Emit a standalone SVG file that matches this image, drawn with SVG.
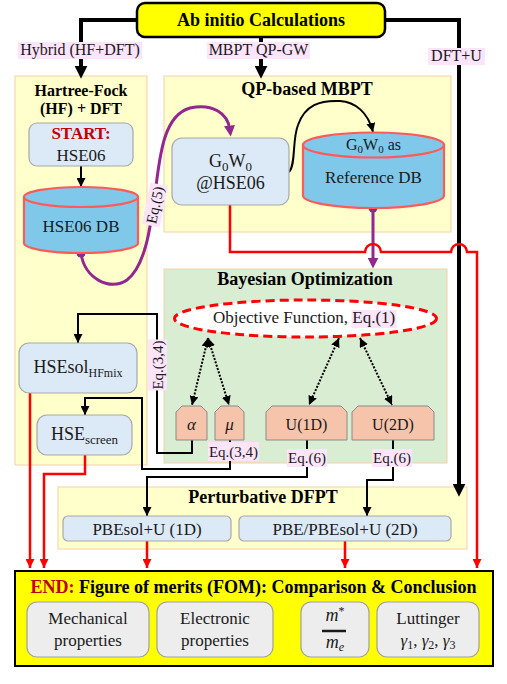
<svg xmlns="http://www.w3.org/2000/svg" width="507" height="684" viewBox="0 0 507 684" font-family="'Liberation Serif', 'Times New Roman', serif">
<defs>
<style>
text{font-family:'Liberation Serif','Times New Roman',serif;fill:#1a1a1a}
.t{font-weight:bold;fill:#000}
.panel{fill:#FFFFCC;stroke:#F5CFA8;stroke-width:1}
.green{fill:#D9EDD2;stroke:#F5CFA8;stroke-width:1}
.blue{fill:#DCE9F6;stroke:#A8A8A8;stroke-width:1.2}
.cyl{fill:#7FC8EA;stroke:#FF5A5A;stroke-width:2.2}
.par{fill:#F6C4AA;stroke:#8A8A8A;stroke-width:1}
.gray{fill:#EDEDED;stroke:#A0A0A0;stroke-width:1.2}
.yel{fill:#FFFF00;stroke:#000}
.pink{fill:#FCE4FA}
.thick{fill:none;stroke:#000;stroke-width:4}
.thin{fill:none;stroke:#000;stroke-width:2}
.red{fill:none;stroke:#FF0000;stroke-width:2.5}
.purp{fill:none;stroke:#92278F;stroke-width:3}
.dot{fill:none;stroke:#000;stroke-width:2;stroke-dasharray:2 1.5}
.lbl{font-size:15px;text-anchor:middle}
.mid{text-anchor:middle}
</style>
<marker id="aK" viewBox="0 0 10 10" refX="4" refY="5" markerWidth="13" markerHeight="13" markerUnits="userSpaceOnUse" orient="auto"><path d="M0,0L10,5L0,10z" fill="#000"/></marker>
<marker id="ak" viewBox="0 0 10 10" refX="10" refY="5" markerWidth="9" markerHeight="9" markerUnits="userSpaceOnUse" orient="auto"><path d="M0,0L10,5L0,10z" fill="#000"/></marker>
<marker id="ad" viewBox="0 0 10 10" refX="10" refY="5" markerWidth="9" markerHeight="9" markerUnits="userSpaceOnUse" orient="auto-start-reverse"><path d="M0,0L10,5L0,10z" fill="#000"/></marker>
<marker id="ar" viewBox="0 0 10 10" refX="10" refY="5" markerWidth="9" markerHeight="9" markerUnits="userSpaceOnUse" orient="auto"><path d="M0,0L10,5L0,10z" fill="#FF0000"/></marker>
<marker id="ap" viewBox="0 0 10 10" refX="4" refY="5" markerWidth="11" markerHeight="11" markerUnits="userSpaceOnUse" orient="auto"><path d="M0,0L10,5L0,10z" fill="#92278F"/></marker>
</defs>

<g id="panel-hf">
<rect class="panel" x="15" y="76" width="132" height="389"/>
<text class="t mid" x="81" y="96" font-size="16">Hartree-Fock</text>
<text class="t mid" x="81" y="114" font-size="16">(HF) + DFT</text>
</g>
<g id="panel-mbpt">
<rect class="panel" x="164" y="76" width="287" height="156"/>
<text class="t mid" x="307" y="95" font-size="18">QP-based MBPT</text>
</g>
<g id="panel-bayes">
<rect class="green" x="164" y="269" width="283" height="194"/>
<text class="t mid" x="305" y="285" font-size="18">Bayesian Optimization</text>
</g>
<g id="panel-dfpt">
<rect class="panel" x="58" y="487" width="409" height="62"/>
<text class="t mid" x="263" y="503" font-size="18">Perturbative DFPT</text>
</g>

<g id="connectors">
<path class="thick" d="M137,20H81V71" marker-end="url(#aK)"/>
<path class="thick" d="M261,37V71" marker-end="url(#aK)"/>
<path class="thick" d="M385,20H459V489" marker-end="url(#aK)"/>
<path class="thin" d="M81,166V187" marker-end="url(#ak)"/>
<path class="thin" d="M289,172C296,165 292,140 298,125C305,105 320,100 340,101C355,102 368,112 373,132" marker-end="url(#ak)"/>
<path class="purp" d="M81,253C84,278 110,292 127,280C145,266 150,230 155,195C160,150 165,115 190,108C212,103 228,113 230,130" marker-end="url(#ap)"/>
<circle cx="81" cy="253" r="4.5" fill="#92278F"/>
<path class="purp" d="M373,208V262" marker-end="url(#ap)"/>
<circle cx="373" cy="208" r="4.5" fill="#92278F"/>
<path class="red" d="M230,205V252H365A8,8 0 0 1 381,252H451A8,8 0 0 1 467,252H477V568" marker-end="url(#ar)"/>
<path class="red" d="M30,393V568" marker-end="url(#ar)"/>
<path class="red" d="M85,455V474H44V568" marker-end="url(#ar)"/>
<path class="red" d="M147,541V568" marker-end="url(#ar)"/>
<path class="red" d="M345,541V568" marker-end="url(#ar)"/>
<path class="dot" d="M208,338L192,405" marker-start="url(#ad)" marker-end="url(#ad)"/>
<path class="dot" d="M208,338L229,405" marker-start="url(#ad)" marker-end="url(#ad)"/>
<path class="dot" d="M339,338L309,405" marker-start="url(#ad)" marker-end="url(#ad)"/>
<path class="dot" d="M360,338L392,405" marker-start="url(#ad)" marker-end="url(#ad)"/>
<path class="thin" d="M192,440V453H157V314H78V343" marker-end="url(#ak)"/>
<path class="thin" d="M230,440V469H142V398H85V415" marker-end="url(#ak)"/>
<path class="thin" d="M307,440V477H147V516" marker-end="url(#ak)"/>
<path class="thin" d="M393,440V480H367V516" marker-end="url(#ak)"/>
<rect class="pink" x="18" y="42" width="124" height="17"/>
<text x="80" y="55" font-size="16" class="mid">Hybrid (HF+DFT)</text>
<rect class="pink" x="207" y="42" width="103" height="17"/>
<text x="258.5" y="55" font-size="16" class="mid">MBPT QP-GW</text>
<rect class="pink" x="428" y="48" width="57" height="17"/>
<text x="456.5" y="61" font-size="16" class="mid">DFT+U</text>
<g transform="translate(155,205) rotate(-78)">
<rect class="pink" x="-21" y="-9" width="42" height="18"/>
<text class="lbl" x="0" y="5">Eq.(5)</text>
</g>
<g transform="translate(157.5,365) rotate(-90)">
<rect class="pink" x="-25.5" y="-9.5" width="51" height="19"/>
<text class="lbl" x="0" y="5">Eq.(3,4)</text>
</g>
<rect class="pink" x="208" y="442" width="51" height="19"/>
<text class="lbl" x="233.5" y="457">Eq.(3,4)</text>
<rect class="pink" x="287" y="449" width="40" height="18"/>
<text class="lbl" x="307" y="463">Eq.(6)</text>
<rect class="pink" x="372" y="449" width="40" height="18"/>
<text class="lbl" x="392" y="463">Eq.(6)</text>
</g>

<g id="node-abinitio">
<rect class="yel" x="137" y="3" width="248" height="34" rx="8" stroke-width="2.5"/>
<text class="t mid" x="261" y="26" font-size="18">Ab initio Calculations</text>
</g>
<g id="node-start">
<rect class="blue" x="29" y="123" width="104" height="43" rx="8"/>
<text class="mid" x="81" y="139" font-size="17" font-weight="bold" style="fill:#C00000">START:</text>
<text class="mid" x="81" y="161" font-size="17">HSE06</text>
</g>
<g id="node-hse06db">
<path class="cyl" d="M24,197V243A57,10 0 0 0 138,243V197Z"/>
<ellipse class="cyl" cx="81" cy="197" rx="57" ry="10"/>
<text class="mid" x="81" y="232" font-size="17">HSE06 DB</text>
</g>
<g id="node-g0w0">
<rect class="blue" x="172" y="138" width="117" height="67" rx="10"/>
<text class="mid" x="230.5" y="167" font-size="18">G<tspan font-size="13" dy="4">0</tspan><tspan dy="-4">W</tspan><tspan font-size="13" dy="4">0</tspan></text>
<text class="mid" x="230.5" y="189" font-size="18">@HSE06</text>
</g>
<g id="node-refdb">
<path class="cyl" d="M303,145V195.5A70.5,12.5 0 0 0 444,195.5V145Z"/>
<ellipse class="cyl" cx="373.5" cy="145" rx="70.5" ry="12.5"/>
<text class="mid" x="373.5" y="150" font-size="16">G<tspan font-size="11" dy="3">0</tspan><tspan dy="-3">W</tspan><tspan font-size="11" dy="3">0</tspan><tspan dy="-3"> as</tspan></text>
<text class="mid" x="373.5" y="183" font-size="17">Reference DB</text>
</g>
<g id="node-objective">
<ellipse cx="305.5" cy="318.5" rx="131" ry="18.5" fill="#fff" stroke="#FF0000" stroke-width="3" stroke-dasharray="9 5"/>
<rect class="pink" x="351.5" y="310" width="45" height="18"/>
<text x="213" y="323" font-size="17">Objective Function, Eq.(1)</text>
</g>
<g id="node-alpha">
<polygon class="par" points="176,412 182,406 201,406 207,412 207,440 176,440"/>
<text class="mid" x="191.5" y="430" font-size="17" font-style="italic">α</text>
</g>
<g id="node-mu">
<polygon class="par" points="215,412 221,406 238,406 244,412 244,440 215,440"/>
<text class="mid" x="229.5" y="430" font-size="17" font-style="italic">μ</text>
</g>
<g id="node-u1d">
<polygon class="par" points="266,412 272,406 341,406 347,412 347,440 266,440"/>
<text class="mid" x="306.5" y="430" font-size="16">U(1D)</text>
</g>
<g id="node-u2d">
<polygon class="par" points="352,412 358,406 428,406 434,412 434,440 352,440"/>
<text class="mid" x="393" y="430" font-size="16">U(2D)</text>
</g>
<g id="node-hsesol">
<rect class="blue" x="19" y="343" width="118" height="50" rx="10"/>
<text class="mid" x="78" y="373" font-size="18">HSEsol<tspan font-size="12" dy="4">HFmix</tspan></text>
</g>
<g id="node-hsescreen">
<rect class="blue" x="37" y="415" width="95" height="40" rx="10"/>
<text class="mid" x="84.5" y="440" font-size="18">HSE<tspan font-size="13" dy="4">screen</tspan></text>
</g>
<g id="node-pbesol1d">
<rect class="blue" x="63" y="516" width="168" height="25" rx="5"/>
<text class="mid" x="147" y="535" font-size="17">PBEsol+U (1D)</text>
</g>
<g id="node-pbe2d">
<rect class="blue" x="239" y="516" width="212" height="25" rx="5"/>
<text class="mid" x="345" y="535" font-size="17">PBE/PBEsol+U (2D)</text>
</g>
<g id="node-end">
<rect class="yel" x="15" y="571" width="478" height="95" stroke-width="2"/>
<text class="t mid" x="253.5" y="593" font-size="18"><tspan style="fill:#C00000">END:</tspan> Figure of merits (FOM): Comparison &amp; Conclusion</text>
</g>
<g id="node-mech">
<rect class="gray" x="27" y="602" width="122" height="55" rx="10"/>
<text class="mid" x="88" y="624" font-size="17">Mechanical</text>
<text class="mid" x="88" y="646" font-size="17">properties</text>
</g>
<g id="node-elec">
<rect class="gray" x="157" y="602" width="116" height="55" rx="10"/>
<text class="mid" x="215" y="624" font-size="17">Electronic</text>
<text class="mid" x="215" y="646" font-size="17">properties</text>
</g>
<g id="node-mass">
<rect class="gray" x="301" y="602" width="68" height="55" rx="10"/>
<text class="mid" x="335" y="621" font-size="18" font-style="italic">m<tspan font-size="12" dy="-6" font-style="normal">*</tspan></text>
<line x1="322" y1="631" x2="346" y2="631" stroke="#1a1a1a" stroke-width="2.5"/>
<text class="mid" x="335" y="648" font-size="18" font-style="italic">m<tspan font-size="12" dy="3">e</tspan></text>
</g>
<g id="node-luttinger">
<rect class="gray" x="377" y="602" width="102" height="55" rx="10"/>
<text class="mid" x="428" y="624" font-size="17">Luttinger</text>
<text class="mid" x="428" y="646" font-size="17"><tspan font-style="italic">γ</tspan><tspan font-size="12" dy="3">1</tspan><tspan dy="-3">, </tspan><tspan font-style="italic">γ</tspan><tspan font-size="12" dy="3">2</tspan><tspan dy="-3">, </tspan><tspan font-style="italic">γ</tspan><tspan font-size="12" dy="3">3</tspan></text>
</g>
</svg>
